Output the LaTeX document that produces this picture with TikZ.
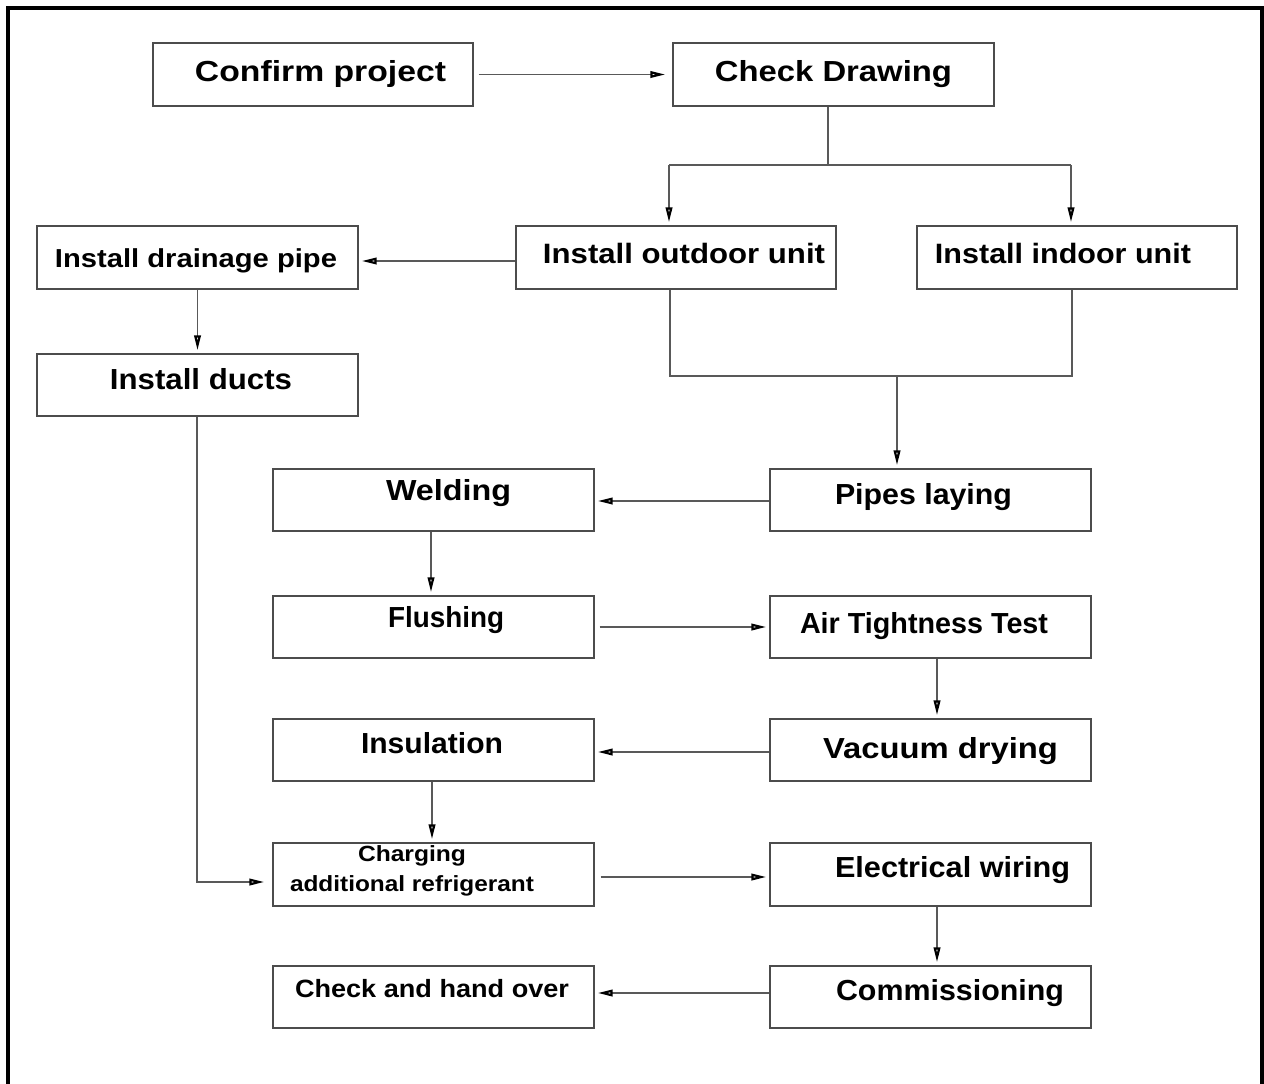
\documentclass[tikz,border=0pt]{standalone}
\usepackage{fontspec}
\usepackage{graphicx}
\setmainfont{Liberation Sans}
\usetikzlibrary{arrows.meta}
\newcommand\fitw[2]{\resizebox{#1pt}{\height}{#2}}
\begin{document}
\begin{tikzpicture}[x=1pt,y=-1pt,
  box/.style={draw=black!70, line width=1.3pt, minimum width=321pt, minimum height=63pt, inner sep=0pt},
  lbl/.style={anchor=base, inner sep=0pt, font=\fontsize{29}{29}\selectfont\bfseries},
  slbl/.style={anchor=base, inner sep=0pt, font=\fontsize{22}{22}\selectfont\bfseries},
  conn/.style={draw=black!65, line width=1.3pt},
  arr/.style={conn, -{Triangle[open, length=15pt, width=6.5pt, line width=2.2pt, color=black]}, shorten >=3pt}
]
\useasboundingbox (0,0) rectangle (1264,1084);
% frame
\draw[line width=4pt] (8,1084) -- (8,8) -- (1261.5,8) -- (1261.5,1084);

% boxes
\node[box, minimum width=320pt] (cp) at (313,74.5) {};
\node[box] (cd) at (833.5,74.5) {};
\node[box, minimum width=320pt] (out) at (676,257.5) {};
\node[box, minimum width=320pt] (ind) at (1077,257.5) {};
\node[box] (drn) at (197.5,257.5) {};
\node[box, minimum height=62pt] (duc) at (197.5,385) {};
\node[box, minimum height=62pt] (wel) at (433.5,500) {};
\node[box, minimum height=62pt] (pip) at (930.5,500) {};
\node[box, minimum height=62pt] (flu) at (433.5,627) {};
\node[box, minimum height=62pt] (air) at (930.5,627) {};
\node[box, minimum height=62pt] (ins) at (433.5,750) {};
\node[box, minimum height=62pt] (vac) at (930.5,750) {};
\node[box] (chg) at (433.5,874.5) {};
\node[box] (ele) at (930.5,874.5) {};
\node[box, minimum height=62pt] (cho) at (433.5,997) {};
\node[box, minimum height=62pt] (com) at (930.5,997) {};

% labels
\node[lbl] (t1) at (320.5,81) {\fitw{251}{Confirm project}};
\node[lbl] (t2) at (833.5,81) {\fitw{237}{Check Drawing}};
\node[lbl, font=\fontsize{28}{28}\selectfont\bfseries] (t3) at (684,263) {\fitw{282}{Install outdoor unit}};
\node[lbl, font=\fontsize{28}{28}\selectfont\bfseries] (t4) at (1063,263) {\fitw{256}{Install indoor unit}};
\node[lbl, font=\fontsize{26}{26}\selectfont\bfseries] (t5) at (196,267) {\fitw{282}{Install drainage pipe}};
\node[lbl] (t6) at (201,389) {\fitw{182}{Install ducts}};
\node[lbl] (t7) at (448.5,500) {\fitw{125}{Welding}};
\node[lbl] (t8) at (923.5,504) {\fitw{177}{Pipes laying}};
\node[lbl] (t9) at (446,627) {\fitw{116}{Flushing}};
\node[lbl] (t10) at (924,633) {\fitw{248}{Air Tightness Test}};
\node[lbl] (t11) at (432,753) {\fitw{142}{Insulation}};
\node[lbl] (t12) at (940.5,758) {\fitw{235}{Vacuum drying}};
\node[slbl] (t13) at (412,861) {\fitw{108}{Charging}};
\node[slbl] (t14) at (412,891) {\fitw{244}{additional refrigerant}};
\node[lbl] (t15) at (952.5,877) {\fitw{235}{Electrical wiring}};
\node[slbl, font=\fontsize{25}{25}\selectfont\bfseries] (t16) at (432,997) {\fitw{274}{Check and hand over}};
\node[lbl] (t17) at (950,1000) {\fitw{228}{Commissioning}};

% connectors
\draw[arr, shorten <=5pt, shorten >=7pt] (cp.east) -- (cd.west);

\coordinate (j1) at (828,165);
\coordinate (jl) at (669,165);
\coordinate (jr) at (1071,165);
\draw[conn] (j1 |- cd.south) -- (j1);
\draw[conn] (jl) -- (jr);
\draw[arr] (jl) -- (jl |- out.north);
\draw[arr] (jr) -- (jr |- ind.north);

\draw[arr] ([yshift=-3.5pt]out.west) -- ([yshift=-3.5pt]drn.east);
\draw[arr] (drn.south) -- (duc.north);

\coordinate (m1) at (670,376);
\coordinate (m2) at (1072,376);
\coordinate (m3) at (897,376);
\draw[conn] (m1 |- out.south) -- (m1) -- (m2) -- (m2 |- ind.south);
\draw[arr] (m3) -- (m3 |- pip.north);

\coordinate (d1) at (197,882);
\draw[arr, shorten >=8pt] (d1 |- duc.south) -- (d1) -- (d1 -| chg.west);

\draw[arr] ([yshift=-1pt]pip.west) -- ([yshift=-1pt]wel.east);
\draw[arr] ([xshift=-2.5pt]wel.south) -- ([xshift=-2.5pt]flu.north);
\draw[arr, shorten <=5pt] (flu.east) -- (air.west);
\draw[arr] ([xshift=6.5pt]air.south) -- ([xshift=6.5pt]vac.north);
\draw[arr] ([yshift=-2pt]vac.west) -- ([yshift=-2pt]ins.east);
\draw[arr] ([xshift=-1.5pt]ins.south) -- ([xshift=-1.5pt]chg.north);
\draw[arr, shorten <=6pt] ([yshift=-2.5pt]chg.east) -- ([yshift=-2.5pt]ele.west);
\draw[arr] ([xshift=6.5pt]ele.south) -- ([xshift=6.5pt]com.north);
\draw[arr] ([yshift=4pt]com.west) -- ([yshift=4pt]cho.east);
\end{tikzpicture}
\end{document}
